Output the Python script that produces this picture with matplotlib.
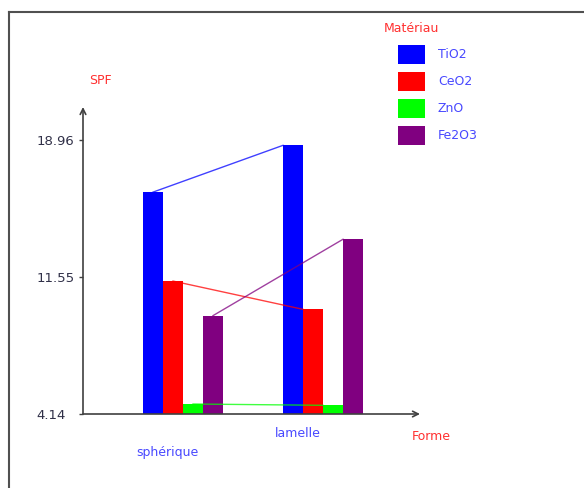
import matplotlib
matplotlib.use("Agg")
import matplotlib.pyplot as plt
from matplotlib.patches import Rectangle
from matplotlib.lines import Line2D

# data
formes = ['sphérique', 'lamelle']
materiaux = ['TiO2', 'CeO2', 'ZnO', 'Fe2O3']
spf = {
    'TiO2':  [16.14, 18.67],
    'CeO2':  [11.33, 9.80],
    'ZnO':   [4.68, 4.61],
    'Fe2O3': [9.46, 13.59],
}
yticks = [4.14, 11.55, 18.96]

colors = ['#0000ff', '#ff0000', '#00ff00', '#800080']
text_blue = '#4848ff'
text_red = '#ff3030'
axis_col = '#404040'

W, H = 584, 488
fig = plt.figure(figsize=(W / 100, H / 100), dpi=100)

# axes placed in pixel units (x axis 83..420, y axis 414..107)
ax = fig.add_axes([83 / W, (H - 414) / H, 337 / W, 307 / H])
ymin = yticks[0]
ymax = ymin + (414 - 107) / 18.49
ax.set_xlim(0, 337 / 20)
ax.set_ylim(ymin, ymax)

group_start = [3, 10]  # left edge of first bar in each group (bar width = 1)
for i, m in enumerate(materiaux):
    vals = spf[m]
    for g in range(len(formes)):
        x0 = group_start[g] + i
        ax.bar(x0, vals[g] - ymin, bottom=ymin, width=1, align='edge',
               color=colors[i], edgecolor='none', zorder=2)
    # line linking the same material across shapes
    ax.plot([group_start[0] + i + 0.5, group_start[1] + i], vals,
            color=colors[i], lw=1, alpha=0.75, zorder=3)

# axes look: only arrowed left/bottom axes
for s in ax.spines.values():
    s.set_visible(False)
ax.annotate('', xy=(1.0, 0), xytext=(0, 0), xycoords='axes fraction',
            arrowprops=dict(arrowstyle='->', color=axis_col, lw=1.2,
                            shrinkA=0, shrinkB=0), zorder=4)
ax.annotate('', xy=(0, 1.0), xytext=(0, 0), xycoords='axes fraction',
            arrowprops=dict(arrowstyle='->', color=axis_col, lw=1.2,
                            shrinkA=0, shrinkB=0), zorder=4)
ax.set_xticks([])
ax.set_yticks(yticks)
ax.set_yticklabels(['%.2f' % v for v in yticks])
ax.tick_params(axis='y', length=3, width=1, color=axis_col, labelcolor='#303048',
               labelsize=9.5, pad=30.5)
for lbl in ax.get_yticklabels():
    lbl.set_horizontalalignment('left')

# category labels (staggered like the original)
ax.text(4.2, -0.127, formes[0], transform=ax.get_xaxis_transform(),
        ha='center', va='center', color=text_blue, fontsize=9)
ax.text(10.75, -0.065, formes[1], transform=ax.get_xaxis_transform(),
        ha='center', va='center', color=text_blue, fontsize=9)

# axis titles
fig.text(431 / W, 1 - 437 / H, 'Forme', color=text_red, fontsize=9,
         ha='center', va='center')
fig.text(100 / W, 1 - 81 / H, 'SPF', color=text_red, fontsize=9,
         ha='center', va='center')

# legend drawn by hand
fig.text(384 / W, 1 - 28 / H, 'Matériau', color=text_red, fontsize=9,
         ha='left', va='center')
for i, m in enumerate(materiaux):
    top = 45 + i * 27
    fig.patches.append(Rectangle((398 / W, 1 - (top + 19) / H), 27 / W, 19 / H,
                                 transform=fig.transFigure, facecolor=colors[i],
                                 edgecolor='none'))
    fig.text(438 / W, 1 - (top + 9.5) / H, m, color=text_blue, fontsize=9,
             ha='left', va='center')

# outer frame (top and left)
fig.lines.append(Line2D([9 / W, 1], [1 - 12 / H, 1 - 12 / H],
                        transform=fig.transFigure, color='#505050', lw=1.5))
fig.lines.append(Line2D([9 / W, 9 / W], [0, 1 - 12 / H],
                        transform=fig.transFigure, color='#505050', lw=1.5))

fig.savefig('out.png', dpi=100)
